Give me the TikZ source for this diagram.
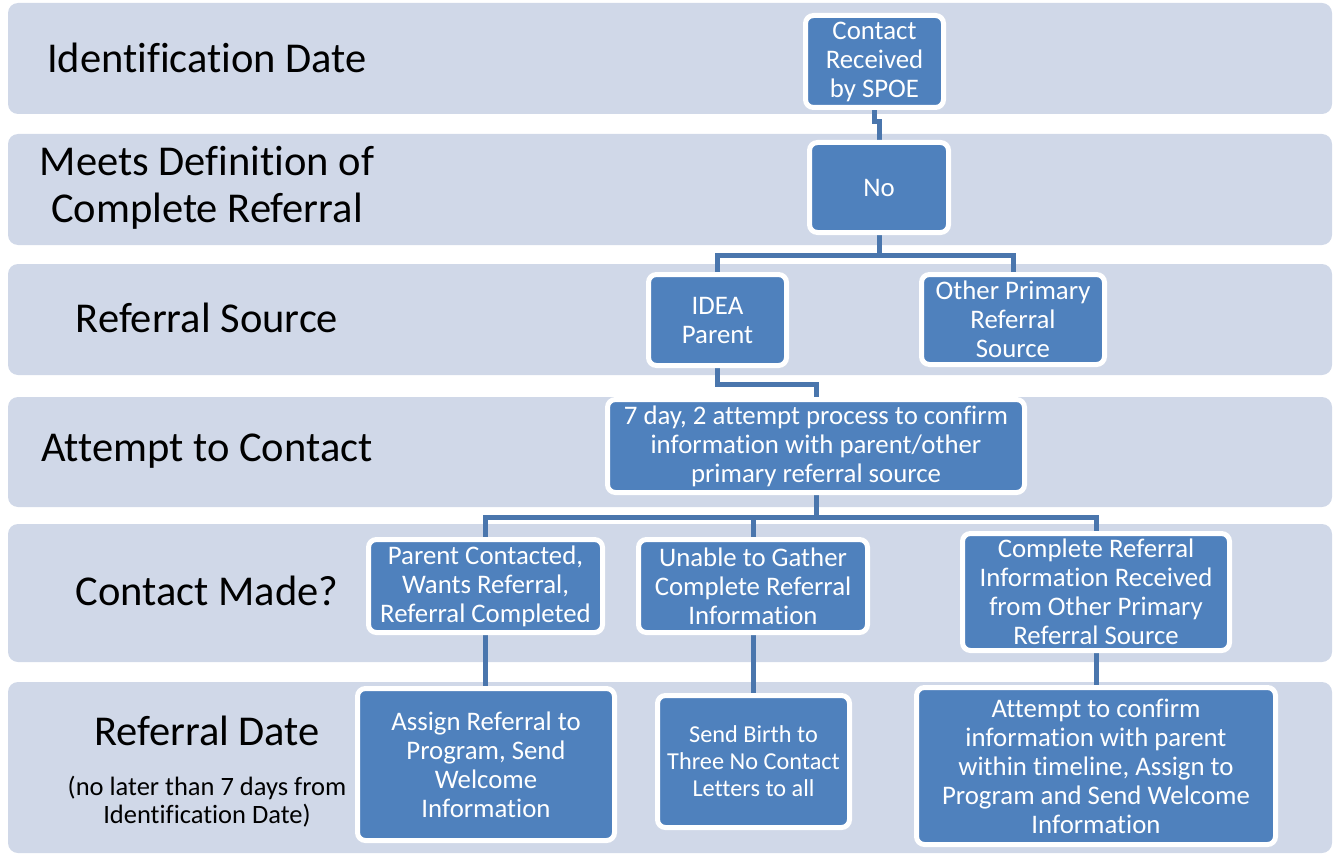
\documentclass[tikz,border=0pt]{standalone}
\usepackage{fontspec}
\setmainfont{Carlito}[Ligatures={NoCommon}]
\usetikzlibrary{backgrounds}
\definecolor{laneblue}{HTML}{D0D8E8}
\definecolor{boxblue}{HTML}{4F81BD}
\definecolor{linkblue}{HTML}{4A76AD}

\begin{document}
\begin{tikzpicture}[x=1pt, y=-1pt]
	\tikzstyle{lane} = [fill=laneblue, rounded corners=10pt];
	\tikzstyle{proc} = [draw=white, line width=5pt, fill=boxblue, rounded corners=8pt, align=center, text=white, inner sep=0pt, font={\fontsize{26.8}{29}\selectfont}];
	\tikzstyle{lbl} = [align=center, font={\fontsize{42.5}{47}\selectfont}];
	\tikzstyle{note} = [align=center, font={\fontsize{26.5}{28}\selectfont}];
	\tikzstyle{link} = [draw=linkblue, line width=5pt];

	\useasboundingbox (0,0) rectangle (1333,856);

	% lane labels
	\node[lbl] (ident) at (207,58) {Identification Date};
	\node[lbl] (meets) at (207,188) {Meets Definition of\\Complete Referral};
	\node[lbl] (source) at (207,318) {Referral Source};
	\node[lbl] (tocontact) at (207,451) {Attempt to Contact};
	\node[lbl] (made) at (207,591) {Contact Made?};
	\node[lbl] (refdate) at (207,731) {Referral Date};
	\node[note] (later) at (207,802) {(no later than 7 days from\\Identification Date)};

	% process boxes
	\node[proc, minimum width=138, minimum height=92] (spoe) at (874.5,61.5) {Contact\\Received\\by SPOE};
	\node[proc, minimum width=139, minimum height=90] (no) at (879,187.5) {No};
	\node[proc, minimum width=138, minimum height=91] (idea) at (717.5,320) {IDEA\\Parent};
	\node[proc, minimum width=183, minimum height=90] (other) at (1013,319.5) {Other Primary\\Referral\\Source};
	\node[proc, minimum width=417, minimum height=93] (attempt) at (816,446) {7 day, 2 attempt process to confirm\\information with parent/other\\primary referral source};
	\node[proc, minimum width=234, minimum height=93] (contacted) at (485.5,586) {Parent Contacted,\\Wants Referral,\\Referral Completed};
	\node[proc, minimum width=229, minimum height=93] (unable) at (753,586) {Unable to Gather\\Complete Referral\\Information};
	\node[proc, minimum width=267, minimum height=117] (complete) at (1096,592) {Complete Referral\\Information Received\\from Other Primary\\Referral Source};
	\node[proc, minimum width=257, minimum height=152] (assign) at (486,764.5) {Assign Referral to\\Program, Send\\Welcome\\Information};
	\node[proc, minimum width=192, minimum height=132, font={\fontsize{24.3}{27}\selectfont}] (letters) at (753.5,761.5) {Send Birth to\\Three No Contact\\Letters to all};
	\node[proc, minimum width=359, minimum height=157] (confirm) at (1096,766) {Attempt to confirm\\information with parent\\within timeline, Assign to\\Program and Send Welcome\\Information};

	\begin{pgfonlayer}{background}
		% lanes
		\foreach \top/\bot in {3/114, 134/245, 264/375, 397/507, 524/662, 682/853} {
			\fill[lane] (8,\top) rectangle (1332,\bot);
		}

		% connectors
		\draw[link] (spoe.south) -- ++(0,12) -| (no.north);
		\draw[link] (no.south) -- ++(0,20) coordinate (bus1);
		\draw[link] (idea.north) |- (bus1) -| (other.north);
		\draw[link] (idea.south) -- ++(0,16) -| (attempt.north);
		\draw[link] (attempt.south) -- ++(0,22) coordinate (bus2);
		\draw[link] (contacted.north) |- (bus2) -| (complete.north);
		\draw[link] (unable.north) -- (unable.north |- bus2);
		\draw[link] (contacted.south) -- (contacted.south |- assign.north);
		\draw[link] (unable.south) -- (unable.south |- letters.north);
		\draw[link] (complete.south) -- (complete.south |- confirm.north);
	\end{pgfonlayer}
\end{tikzpicture}
\end{document}
